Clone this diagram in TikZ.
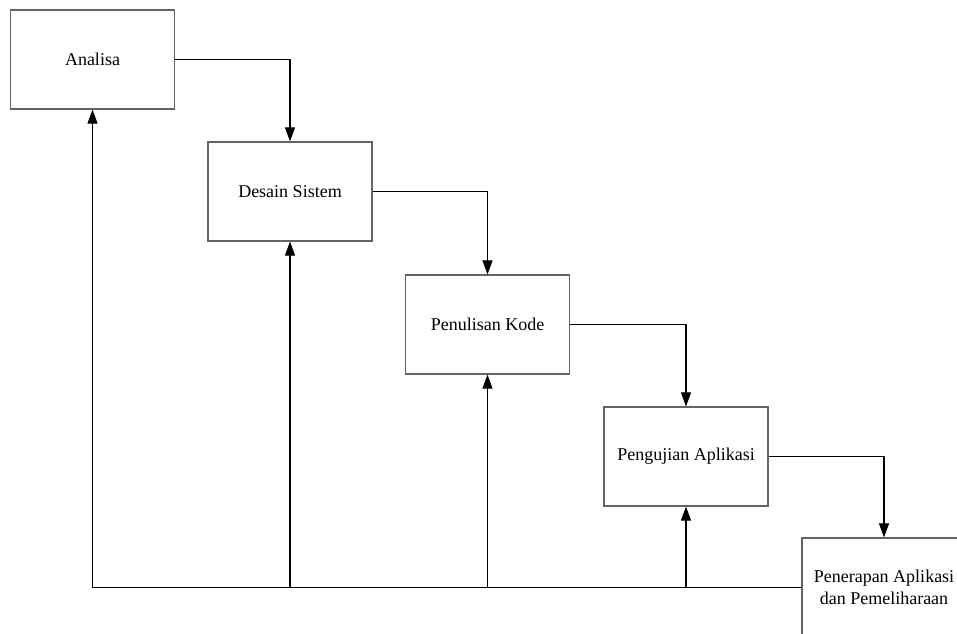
\documentclass[tikz,border=0pt]{standalone}
\usepackage{fontspec}
\setmainfont{Liberation Serif}
\usetikzlibrary{arrows.meta}
\definecolor{boxgray}{RGB}{100,100,100}
\begin{document}
\begin{tikzpicture}[x=0.75pt,y=-0.75pt,
  stage/.style={draw=boxgray,line width=0.9pt,rectangle,minimum width=123pt,minimum height=74.25pt,inner sep=0pt,align=center,font=\fontsize{13.5pt}{16.5pt}\selectfont},
  flow/.style={draw=black,line width=0.8pt,-{Triangle[length=10.5pt,width=7.5pt]}},
  plain/.style={draw=black,line width=0.8pt}]
\clip (0,0) rectangle (957,634);
\fill[white] (0,0) rectangle (957,634);
\node[stage] (a) at (92.5,59.5) {Analisa};
\node[stage] (b) at (290,191.5) {Desain Sistem};
\node[stage] (c) at (487.5,324.5) {Penulisan Kode};
\node[stage] (d) at (686,456.5) {Pengujian Aplikasi};
\node[stage] (e) at (884,587.5) {Penerapan Aplikasi\\dan Pemeliharaan};
\draw[flow] (a.east) -| (b.north);
\draw[flow] (b.east) -| (c.north);
\draw[flow] (c.east) -| (d.north);
\draw[flow] (d.east) -| (e.north);
\coordinate (fa) at (a.south |- e.west);
\coordinate (fb) at (b.south |- e.west);
\coordinate (fc) at (c.south |- e.west);
\coordinate (fd) at (d.south |- e.west);
\draw[plain] (e.west) -- (fa);
\draw[flow] (fa) -- (a.south);
\draw[flow] (fb) -- (b.south);
\draw[flow] (fc) -- (c.south);
\draw[flow] (fd) -- (d.south);
\end{tikzpicture}
\end{document}
